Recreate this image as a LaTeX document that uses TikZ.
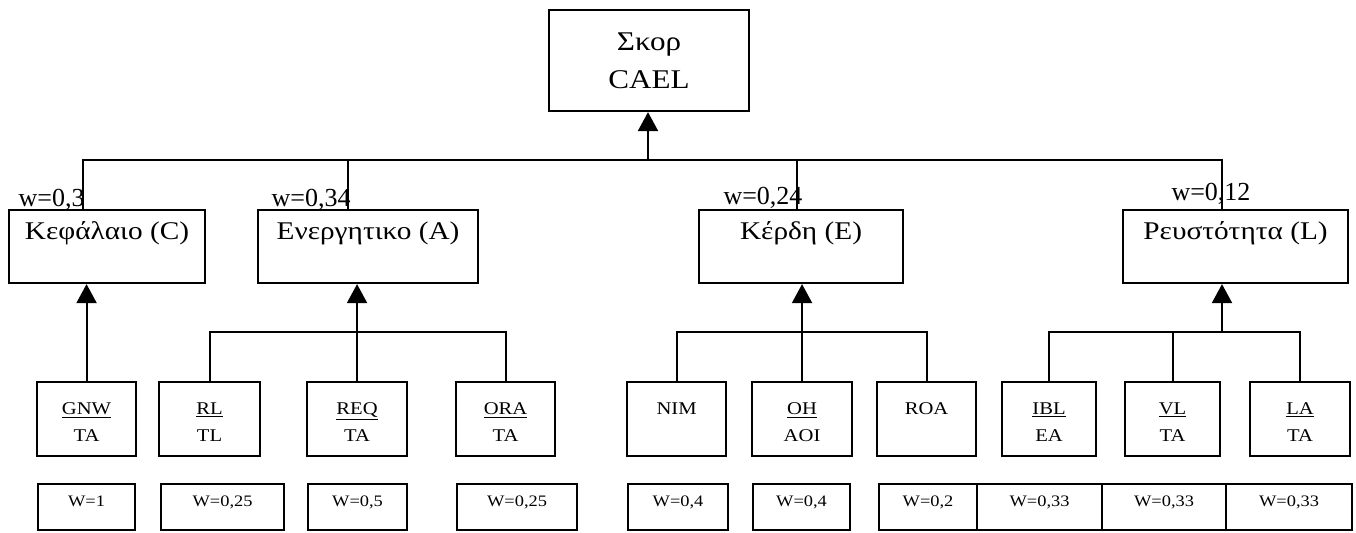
\documentclass[tikz,border=0pt]{standalone}
\usepackage{fontspec}
\setmainfont{Liberation Serif}[FakeStretch=1.15]
\newfontfamily\weightfont{Liberation Serif}
\usetikzlibrary{
    arrows.meta
}
% a framed box given by its name and its corners (left, top, right, bottom)
\newcommand{\FrameBox}[5]{%
  \node[box, anchor=north west,
        minimum width={(#4-#2)*0.02cm},
        minimum height={(#5-#3)*0.02cm}] (#1) at (#2,#3) {};
}

\begin{document}
\begin{tikzpicture}[x=0.02cm,y=-0.02cm,
    box/.style={draw, line width=1.2pt, inner sep=0pt},
    link/.style={line width=1.2pt},
    uparrow/.style={link, -{Triangle[length=0.38cm,width=0.4cm]}},
    scoretext/.style={align=center, inner sep=0pt, font=\fontsize{15.4}{21.6}\selectfont},
    grouptext/.style={inner sep=0pt, font=\fontsize{14.5}{17}\selectfont},
    wlabel/.style={anchor=base, inner sep=0pt, font=\weightfont\fontsize{14.8}{17}\selectfont},
    ratiotext/.style={anchor=north, align=center, inner sep=0pt, yshift=-0.42cm,
                      font=\fontsize{10.2}{15.4}\selectfont},
    weighttext/.style={anchor=north, inner sep=0pt, yshift=-0.25cm,
                       font=\fontsize{9.1}{11}\selectfont}]
\useasboundingbox (0,0) rectangle (1356,532);

% top
\FrameBox{score}{548}{9}{748}{110}
\node[scoretext] (scorelbl) at (score.center) {Σκορ\\CAEL};

% groups
\FrameBox{C}{8}{209}{204}{282}
\FrameBox{A}{257}{209}{477}{282}
\FrameBox{E}{698}{209}{902}{282}
\FrameBox{L}{1122}{209}{1347}{282}
\node[grouptext, yshift=-0.48cm] (Clbl) at (C.north) {Κεφάλαιο (C)};
\node[grouptext, yshift=-0.48cm] (Albl) at (A.north) {Ενεργητικο (A)};
\node[grouptext, yshift=-0.48cm] (Elbl) at (E.north) {Κέρδη (E)};
\node[grouptext, yshift=-0.48cm] (Llbl) at (L.north) {Ρευστότητα (L)};

\node[wlabel, anchor=base east] (wClbl) at (85,206) {w=0,3};
\node[wlabel, anchor=base east] (wAlbl) at (351,206) {w=0,34};
\node[wlabel] (wElbl) at (763,204) {w=0,24};
\node[wlabel] (wLlbl) at (1211,200) {w=0,12};

% ratios
\FrameBox{GNW}{36}{381}{135}{455}
\FrameBox{RL}{158}{381}{259}{455}
\FrameBox{REQ}{306}{381}{406}{455}
\FrameBox{ORA}{455}{381}{554}{455}
\FrameBox{NIM}{626}{381}{725}{455}
\FrameBox{OH}{751}{381}{851}{455}
\FrameBox{ROA}{876}{381}{975}{455}
\FrameBox{IBL}{1001}{381}{1095}{455}
\FrameBox{VL}{1124}{381}{1219}{455}
\FrameBox{LA}{1249}{381}{1349}{455}
\node[ratiotext] (GNWlbl) at (GNW.north) {\underline{GNW}\\TA};
\node[ratiotext] (RLlbl) at (RL.north) {\underline{RL}\\TL};
\node[ratiotext] (REQlbl) at (REQ.north) {\underline{REQ}\\TA};
\node[ratiotext] (ORAlbl) at (ORA.north) {\underline{ORA}\\TA};
\node[ratiotext] (NIMlbl) at (NIM.north) {NIM};
\node[ratiotext] (OHlbl) at (OH.north) {\underline{OH}\\AOI};
\node[ratiotext] (ROAlbl) at (ROA.north) {ROA};
\node[ratiotext] (IBLlbl) at (IBL.north) {\underline{IBL}\\EA};
\node[ratiotext] (VLlbl) at (VL.north) {\underline{VL}\\TA};
\node[ratiotext] (LAlbl) at (LA.north) {\underline{LA}\\TA};

% weights of the ratios
\FrameBox{W1}{37}{483}{134}{529}
\FrameBox{W2}{160}{483}{283}{529}
\FrameBox{W3}{307}{483}{406}{529}
\FrameBox{W4}{456}{483}{576}{529}
\FrameBox{W5}{627}{483}{727}{529}
\FrameBox{W6}{752}{483}{849}{529}
\FrameBox{W7}{878}{483}{976}{529}
\FrameBox{W8}{976}{483}{1101}{529}
\FrameBox{W9}{1101}{483}{1225}{529}
\FrameBox{W10}{1225}{483}{1351}{529}
\node[weighttext] (W1lbl) at (W1.north) {W=1};
\node[weighttext] (W2lbl) at (W2.north) {W=0,25};
\node[weighttext] (W3lbl) at (W3.north) {W=0,5};
\node[weighttext] (W4lbl) at (W4.north) {W=0,25};
\node[weighttext] (W5lbl) at (W5.north) {W=0,4};
\node[weighttext] (W6lbl) at (W6.north) {W=0,4};
\node[weighttext] (W7lbl) at (W7.north) {W=0,2};
\node[weighttext] (W8lbl) at (W8.north) {W=0,33};
\node[weighttext] (W9lbl) at (W9.north) {W=0,33};
\node[weighttext] (W10lbl) at (W10.north) {W=0,33};

% connectors
\coordinate (hub) at (648,160);
\coordinate (wC) at (83,160);
\coordinate (wA) at (348,160);
\coordinate (wE) at (797,160);
\coordinate (wL) at (1222,160);
\draw[uparrow] (hub) -- (hub |- score.south);
\draw[link] (wC |- C.north) -- (wC) -- (wL) -- (wL |- L.north);
\draw[link] (wA) -- (wA |- A.north);
\draw[link] (wE) -- (wE |- E.north);

\coordinate (barA) at (356,332);
\coordinate (barE) at (801,332);
\coordinate (barL) at (1222,332);
\draw[uparrow] (GNW.north) -- (GNW.north |- C.south);
\draw[link] (RL.north) -- (RL.north |- barA) -- (ORA.north |- barA) -- (ORA.north);
\draw[uparrow] (REQ.north) -- (REQ.north |- A.south);
\draw[link] (NIM.north) -- (NIM.north |- barE) -- (ROA.north |- barE) -- (ROA.north);
\draw[uparrow] (OH.north) -- (OH.north |- E.south);
\draw[link] (IBL.north) -- (IBL.north |- barL) -- (LA.north |- barL) -- (LA.north);
\draw[link] (VL.north) -- (VL.north |- barL);
\draw[uparrow] (barL) -- (barL |- L.south);
\end{tikzpicture}
\end{document}
